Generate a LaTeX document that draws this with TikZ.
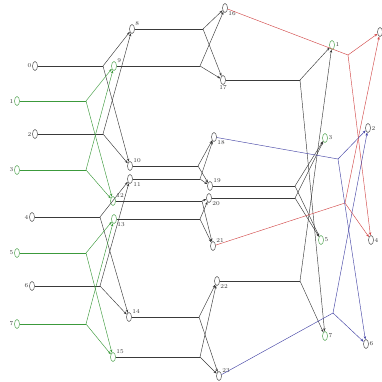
\documentclass[tikz,border=0pt]{standalone}
\usepackage{xcolor}
\definecolor{ink}{HTML}{3A3A3A}
\definecolor{leaf}{HTML}{3C9A3C}
\definecolor{brick}{HTML}{D24A4A}
\definecolor{indigo}{HTML}{4646A6}
\usepackage{tikz}
\usetikzlibrary{arrows.meta,shapes.geometric}
\tikzset{
  >={Stealth[length=3.2pt,width=2.4pt]},
  vert/.style  ={draw=ink,ellipse,minimum width=5pt,minimum height=9pt,
                 inner sep=0pt,line width=0.45pt},
  gvert/.style ={vert,draw=leaf},
  lbl/.style   ={font=\fontsize{6}{7}\selectfont,text=ink,inner sep=0.8pt},
  wire/.style  ={draw=ink,line width=0.45pt},
  flow/.style  ={->,wire},
  gwire/.style ={draw=leaf,line width=0.45pt},
  gflow/.style ={->,gwire},
  rflow/.style ={->,draw=brick,line width=0.45pt},
  bflow/.style ={->,draw=indigo,line width=0.45pt},
}
\begin{document}
\begin{tikzpicture}[x=1pt,y=-1pt]
\useasboundingbox (0,0) rectangle (382,381);
% inputs
\node[vert, label={[lbl]left:0}] (n0) at (35,66)  {};
\node[gvert,label={[lbl]left:1}] (n1) at (17,101) {};
\node[vert, label={[lbl]left:2}] (n2) at (35,134) {};
\node[gvert,label={[lbl]left:3}] (n3) at (17,170) {};
\node[vert, label={[lbl]left:4}] (n4) at (32,217) {};
\node[gvert,label={[lbl]left:5}] (n5) at (17,253) {};
\node[vert, label={[lbl]left:6}] (n6) at (32,286) {};
\node[gvert,label={[lbl]left:7}] (n7) at (17,324) {};
% first stage
\node[vert, label={[lbl]above right:8}]  (n8)  at (132,29)  {};
\node[gvert,label={[lbl]above right:9}]  (n9)  at (114,66)  {};
\node[vert, label={[lbl]above right:10}] (n10) at (130,166) {};
\node[vert, label={[lbl]below right:11}] (n11) at (130,179) {};
\node[gvert,label={[lbl]above right:12}] (n12) at (113,201) {};
\node[gvert,label={[lbl]below right:13}] (n13) at (114,219) {};
\node[vert, label={[lbl]above right:14}] (n14) at (129,317) {};
\node[gvert,label={[lbl]above right:15}] (n15) at (113,357) {};
% second stage
\node[vert,label={[lbl]below right:16}] (n16) at (225,8)   {};
\node[vert,label={[lbl]below:17}]       (n17) at (223,80)  {};
\node[vert,label={[lbl]below right:18}] (n18) at (214,137) {};
\node[vert,label={[lbl]above right:19}] (n19) at (210,186) {};
\node[vert,label={[lbl]below right:20}] (n20) at (209,198) {};
\node[vert,label={[lbl]above right:21}] (n21) at (213,246) {};
\node[vert,label={[lbl]below right:22}] (n22) at (217,281) {};
\node[vert,label={[lbl]above right:23}] (n23) at (219,376) {};
% outputs
\node[vert]                        (o0) at (380,32)  {};
\node[gvert,label={[lbl]right:1}]  (o1) at (332,45)  {};
\node[vert, label={[lbl]right:2}]  (o2) at (368,128) {};
\node[gvert,label={[lbl]right:3}]  (o3) at (325,138) {};
\node[vert, label={[lbl]right:4}]  (o4) at (371,240) {};
\node[gvert,label={[lbl]right:5}]  (o5) at (321,240) {};
\node[vert, label={[lbl]right:6}]  (o6) at (366,344) {};
\node[gvert,label={[lbl]right:7}]  (o7) at (325,336) {};

% split points
\coordinate (s0) at (103,66);  \coordinate (s1) at (86,101);
\coordinate (s2) at (103,134); \coordinate (s3) at (86,170);
\coordinate (s4) at (100,217); \coordinate (s5) at (86,253);
\coordinate (s6) at (100,286); \coordinate (s7) at (86,324);
\coordinate (s8)  at (203,29);  \coordinate (s9)  at (200,66);
\coordinate (s10) at (198,166); \coordinate (s11) at (200,179);
\coordinate (s12) at (202,201); \coordinate (s13) at (200,219);
\coordinate (s14) at (199,317); \coordinate (s15) at (200,357);
\coordinate (s16) at (348,55);  \coordinate (s17) at (300,80);
\coordinate (s18) at (338,159); \coordinate (s19) at (295,186);
\coordinate (s20) at (295,198); \coordinate (s21) at (345,203);
\coordinate (s22) at (300,281); \coordinate (s23) at (333,313);

% stage 1
\foreach \i/\a/\b in {0/n8/n10,2/n8/n10,4/n11/n14,6/n11/n14}{
  \draw[wire] (n\i) -- (s\i);
  \draw[flow] (s\i) -- (\a);
  \draw[flow] (s\i) -- (\b);
}
\foreach \i/\a/\b in {1/n9/n12,3/n9/n12,5/n13/n15,7/n13/n15}{
  \draw[gwire] (n\i) -- (s\i);
  \draw[gflow] (s\i) -- (\a);
  \draw[gflow] (s\i) -- (\b);
}
% stage 2
\foreach \i/\a/\b in {8/n16/n17,9/n16/n17,10/n18/n19,11/n18/n19,
                      12/n20/n21,13/n20/n21,14/n22/n23,15/n22/n23}{
  \draw[wire] (n\i) -- (s\i);
  \draw[flow] (s\i) -- (\a);
  \draw[flow] (s\i) -- (\b);
}
% stage 3
\foreach \i/\a/\b in {17/o1/o7,22/o1/o7,19/o3/o5,20/o3/o5}{
  \draw[wire] (n\i) -- (s\i);
  \draw[flow] (s\i) -- (\a);
  \draw[flow] (s\i) -- (\b);
}
\foreach \i in {16,21}{
  \draw[draw=brick,line width=0.45pt] (n\i) -- (s\i);
  \draw[rflow] (s\i) -- (o0);
  \draw[rflow] (s\i) -- (o4);
}
\foreach \i in {18,23}{
  \draw[draw=indigo,line width=0.45pt] (n\i) -- (s\i);
  \draw[bflow] (s\i) -- (o2);
  \draw[bflow] (s\i) -- (o6);
}
\end{tikzpicture}
\end{document}
